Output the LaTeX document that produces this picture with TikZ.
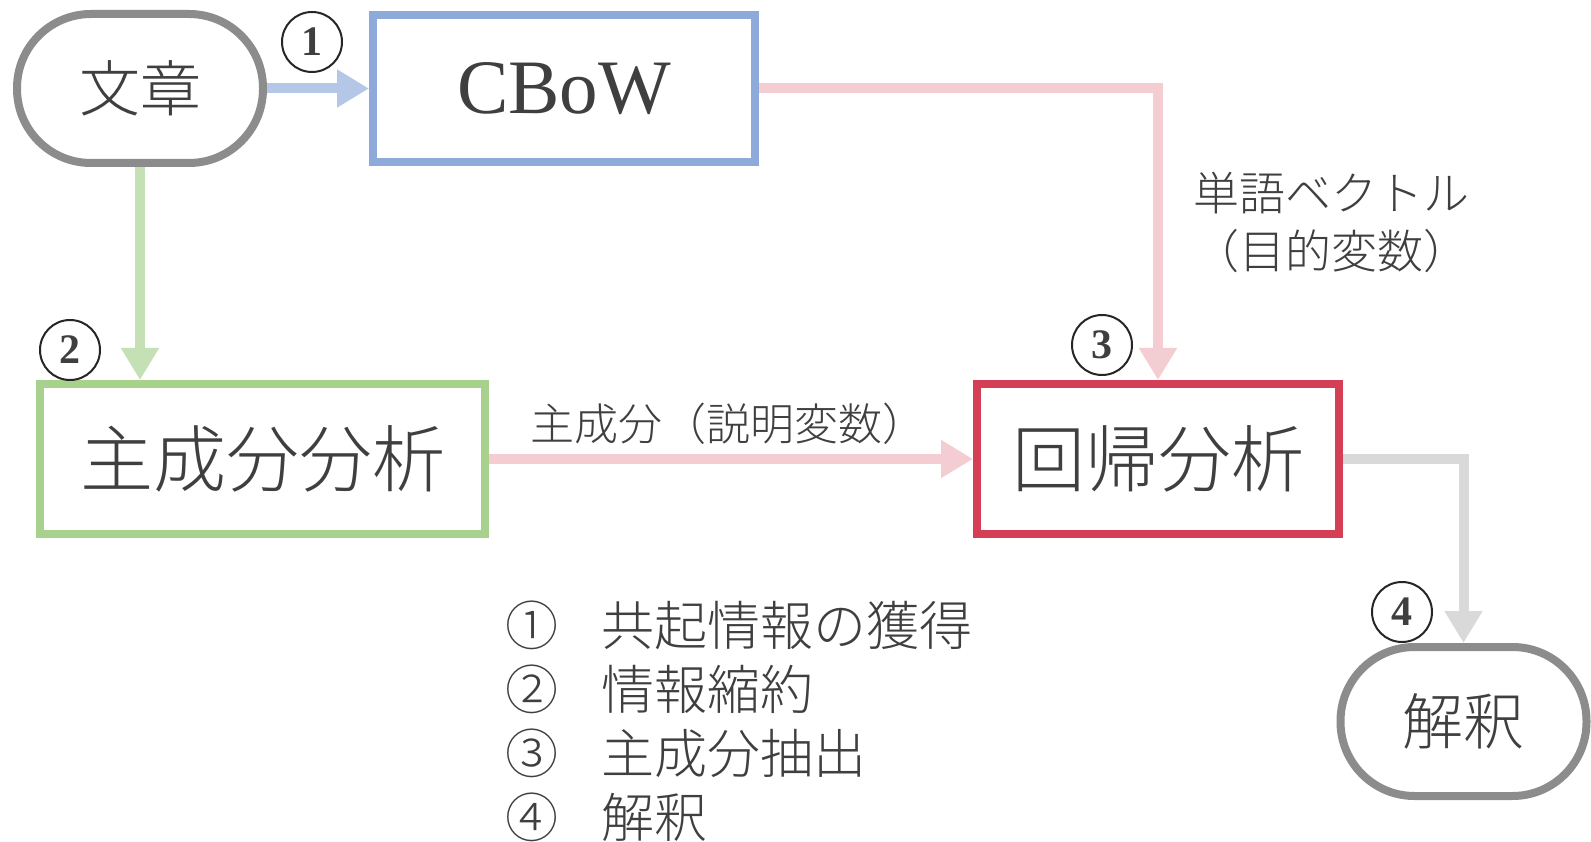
\documentclass[tikz,border=0pt]{standalone}
\usepackage{fontspec}
\newfontfamily\jp{Noto Sans CJK JP Light}
\newfontfamily\tms{Liberation Serif}
\usetikzlibrary{arrows.meta}
\definecolor{txt}{HTML}{3F3F3F}
\definecolor{termgray}{HTML}{8C8C8C}
\definecolor{bluebox}{HTML}{8EAADB}
\definecolor{bluearr}{HTML}{B4C7E7}
\definecolor{greenbox}{HTML}{A9D18E}
\definecolor{greenarr}{HTML}{C5E0B4}
\definecolor{redbox}{HTML}{D43F55}
\definecolor{pinkarr}{HTML}{F4CDD3}
\definecolor{grayarr}{HTML}{D9D9D9}
\definecolor{numc}{HTML}{262626}
\tikzset{
  term/.style={draw=termgray, line width=8pt, rounded corners=74pt, minimum width=246pt, minimum height=149pt, inner sep=0pt, text=txt, font=\jp\fontsize{61}{61}\selectfont},
  boxnode/.style={draw, line width=8pt, inner sep=0pt, minimum height=150pt, text=txt},
  conn/.style={line width=10pt, -{Triangle[length=32pt,width=36pt]}},
  num/.style={circle, draw=numc, line width=2pt, minimum size=60pt, inner sep=0pt, text=txt, font=\tms\bfseries\fontsize{42}{42}\selectfont},
  lab/.style={text=txt, inner sep=0pt, font=\jp\fontsize{44}{44}\selectfont},
  legnum/.style={text=txt, inner sep=0pt, anchor=west, font=\jp\fontsize{53}{53}\selectfont},
  legtxt/.style={text=txt, inner sep=0pt, anchor=west, font=\jp\fontsize{53}{53}\selectfont}
}
\begin{document}
\begin{tikzpicture}[x=1pt,y=-1pt]
\useasboundingbox[fill=white] (0,0) rectangle (1591,842);
% nodes
\node[term] (bun) at (140,88.5) {文章};
\node[boxnode, draw=bluebox, minimum width=382pt, minimum height=147pt, font=\tms\fontsize{77}{77}\selectfont] (cbow) at (564,88.5) {CBoW};
\node[boxnode, draw=greenbox, minimum width=445pt, font=\jp\fontsize{73}{73}\selectfont] (pca) at (262.5,459) {主成分分析};
\node[boxnode, draw=redbox, minimum width=362pt, font=\jp\fontsize{73}{73}\selectfont] (reg) at (1158,459) {回帰分析};
\node[term] (kai) at (1463.5,721.5) {解釈};
% connectors
\draw[conn, bluearr] (bun.east) -- (cbow.west);
\draw[conn, greenarr] (bun.south) -- (bun.south |- pca.north);
\draw[conn, pinkarr] (cbow.east) -| (reg.north);
\draw[conn, pinkarr] (pca.east) -- (reg.west);
\draw[conn, grayarr] (reg.east) -| (kai.north);
% step numbers
\node[num] (n1) at (312,42) {1};
\node[num] (n2) at (70,350) {2};
\node[num] (n3) at (1102,345) {3};
\node[num] (n4) at (1402,612) {4};
% labels
\node[lab] (l1) at (728,424) {主成分（説明変数）};
\node[lab, align=center, font=\jp\fontsize{46}{58}\selectfont] (l2) at (1331,222) {単語ベクトル\\（目的変数）};
% legend
\node[legnum] (g1) at (505,625) {①};
\node[legtxt] (t1) at (601,625) {共起情報の獲得};
\node[legnum] (g2) at (505,689) {②};
\node[legtxt] (t2) at (601,689) {情報縮約};
\node[legnum] (g3) at (505,753) {③};
\node[legtxt] (t3) at (601,753) {主成分抽出};
\node[legnum] (g4) at (505,817) {④};
\node[legtxt] (t4) at (601,817) {解釈};
\end{tikzpicture}
\end{document}
